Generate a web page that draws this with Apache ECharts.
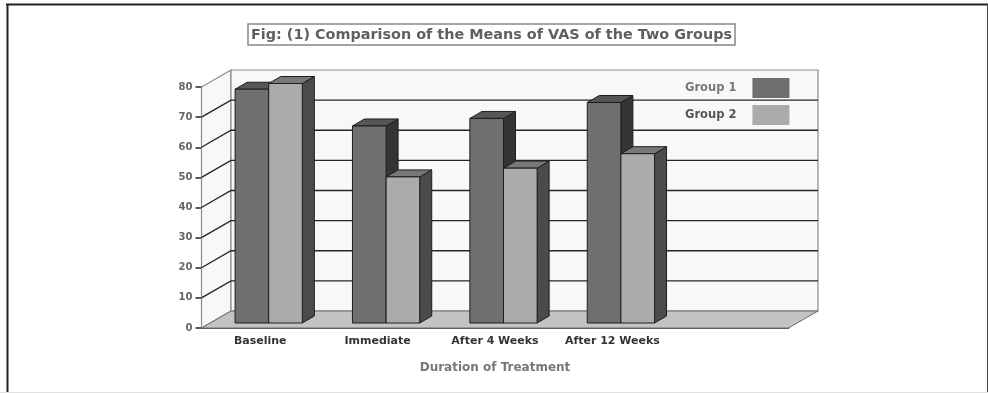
<!DOCTYPE html>
<html><head><meta charset="utf-8">
<style>html,body{margin:0;padding:0;background:#fff}#c{width:988px;height:393px;filter:blur(0.45px)}</style>
<script src="https://cdn.jsdelivr.net/npm/echarts@6/dist/echarts.min.js"></script>
</head><body><div id="c"></div>
<script>
const titleText = 'Fig: (1) Comparison of the Means of VAS of the Two Groups';
const xName = 'Duration of Treatment';
const categories = ['Baseline', 'Immediate', 'After 4 Weeks', 'After 12 Weeks', ''];
const group1 = [77.6, 65.4, 67.9, 73.2];
const group2 = [79.5, 48.5, 51.4, 56.2];
const gridTicks = [10, 20, 30, 40, 50, 60, 70];

const DX = 29.5, DY = -17;      // full depth of the 3D box
const BX = 8.5, BY = -5;        // bar front plane inside the box
const BDX = 12, BDY = -7;       // bar depth
const BAR = 0.2865;             // bar width as share of a category band
const FONT = 'DejaVu Sans';
const chart = echarts.init(document.getElementById('c'), null, {renderer: 'canvas'});

function poly(points, fill, stroke, lw) {
  return {type: 'polygon', shape: {points}, style: {fill, stroke: stroke || null, lineWidth: lw || 0}};
}
function renderBox(params, api) {
  const a = api.coord([0, 0]), band = api.size([1, 0])[0];
  const l = a[0] - band / 2, b = a[1];
  const r = api.coord([4, 0])[0] + band / 2, t = api.coord([0, 80])[1];
  const wall = '#f7f9f8', edge = '#8a8a8a';
  return {type: 'group', children: [
    poly([[l, b], [l + DX, b + DY], [l + DX, t + DY], [l, t]], wall, edge, 1.2),
    poly([[l + DX, b + DY], [r + DX, b + DY], [r + DX, t + DY], [l + DX, t + DY]], wall, edge, 1.2),
    poly([[l, b], [l + DX, b + DY], [r + DX, b + DY], [r, b]], '#c2c3c2', '#6a6a6a', 1)
  ]};
}
function renderGrid(params, api) {
  const band = api.size([1, 0])[0];
  const p = api.coord([0, api.value(0)]);
  const l = p[0] - band / 2, y = p[1];
  const r = api.coord([4, 0])[0] + band / 2;
  return {type: 'polyline', shape: {points: [[l, y], [l + DX, y + DY], [r + DX, y + DY]]},
    style: {fill: null, stroke: '#262626', lineWidth: 1.4}};
}
function barRenderer(slot, front, top, side) {
  return function (params, api) {
    const band = api.size([1, 0])[0], w = band * BAR;
    const c = api.coord([api.value(0), api.value(1)]);
    const z = api.coord([api.value(0), 0]);
    const x0 = c[0] + BX + (slot - 1) * w, x1 = x0 + w;
    const yT = c[1] + BY, yB = z[1] + BY;
    const ink = '#1e1e1e';
    return {type: 'group', children: [
      poly([[x1, yT], [x1 + BDX, yT + BDY], [x1 + BDX, yB + BDY], [x1, yB]], side, ink, 1),
      poly([[x0, yT], [x0 + BDX, yT + BDY], [x1 + BDX, yT + BDY], [x1, yT]], top, ink, 1),
      poly([[x0, yT], [x1, yT], [x1, yB], [x0, yB]], front, ink, 1)
    ]};
  };
}
chart.setOption({
  animation: false,
  backgroundColor: '#fff',
  title: {
    text: titleText, left: 248, top: 24,
    padding: [4, 3, 3, 3], borderColor: '#888', borderWidth: 1.5,
    textStyle: {fontFamily: FONT, fontWeight: 'bold', fontSize: 14.4, color: '#5f5f5f'}
  },
  legend: {
    orient: 'vertical', left: 680, top: 73, align: 'right',
    itemWidth: 37, itemHeight: 20, itemGap: 7, icon: 'rect',
    selectedMode: false,
    data: [
      {name: 'Group 1', textStyle: {color: '#777'}},
      {name: 'Group 2', textStyle: {color: '#555'}}
    ],
    textStyle: {fontFamily: FONT, fontWeight: 'bold', fontSize: 11.5, padding: [0, 11, 0, 0]}
  },
  grid: {left: 201.5, right: 199.5, top: 87, bottom: 65},
  xAxis: {
    type: 'category', data: categories,
    name: xName, nameLocation: 'middle', nameGap: 34,
    nameTextStyle: {fontFamily: FONT, fontWeight: 'bold', fontSize: 12, color: '#777'},
    axisLine: {lineStyle: {color: '#222', width: 1.5}},
    axisTick: {length: 5, lineStyle: {color: '#222', width: 1.5}, alignWithLabel: false},
    axisLabel: {margin: 8, interval: 0, fontFamily: FONT, fontWeight: 'bold', fontSize: 11, color: '#333'}
  },
  yAxis: {
    type: 'value', min: 0, max: 80, interval: 10,
    splitLine: {show: false},
    axisLine: {show: true, lineStyle: {color: '#222', width: 1.5}},
    axisTick: {show: true, length: 6, lineStyle: {color: '#222', width: 1.5}},
    axisLabel: {margin: 9, fontFamily: FONT, fontWeight: 'bold', fontSize: 10, color: '#666'}
  },
  series: [
    {type: 'custom', name: 'box', silent: true, renderItem: renderBox, data: [[0, 0]], encode: {x: 0, y: 1}, z: 1},
    {type: 'custom', name: 'grid', silent: true, renderItem: renderGrid, data: gridTicks.map(v => [v]), encode: {y: 0}, z: 2},
    {type: 'custom', name: 'Group 1', renderItem: barRenderer(0, '#6e6f6e', '#555655', '#333433'),
      itemStyle: {color: '#6e6f6e'}, data: group1.map((v, i) => [i, v]), encode: {x: 0, y: 1}, z: 3},
    {type: 'custom', name: 'Group 2', renderItem: barRenderer(1, '#ababab', '#787878', '#4a4b4a'),
      itemStyle: {color: '#ababab'}, data: group2.map((v, i) => [i, v]), encode: {x: 0, y: 1}, z: 4}
  ],
  graphic: [
    {type: 'line', shape: {x1: 6, y1: 4.5, x2: 988, y2: 4.5}, style: {stroke: '#222', lineWidth: 2}},
    {type: 'line', shape: {x1: 7.5, y1: 4, x2: 7.5, y2: 393}, style: {stroke: '#222', lineWidth: 2}},
    {type: 'line', shape: {x1: 987.5, y1: 4, x2: 987.5, y2: 393}, style: {stroke: '#444', lineWidth: 1}},
    {type: 'line', shape: {x1: 0, y1: 392.5, x2: 988, y2: 392.5}, style: {stroke: '#e2e2e2', lineWidth: 1}}
  ]
});
</script></body></html>
